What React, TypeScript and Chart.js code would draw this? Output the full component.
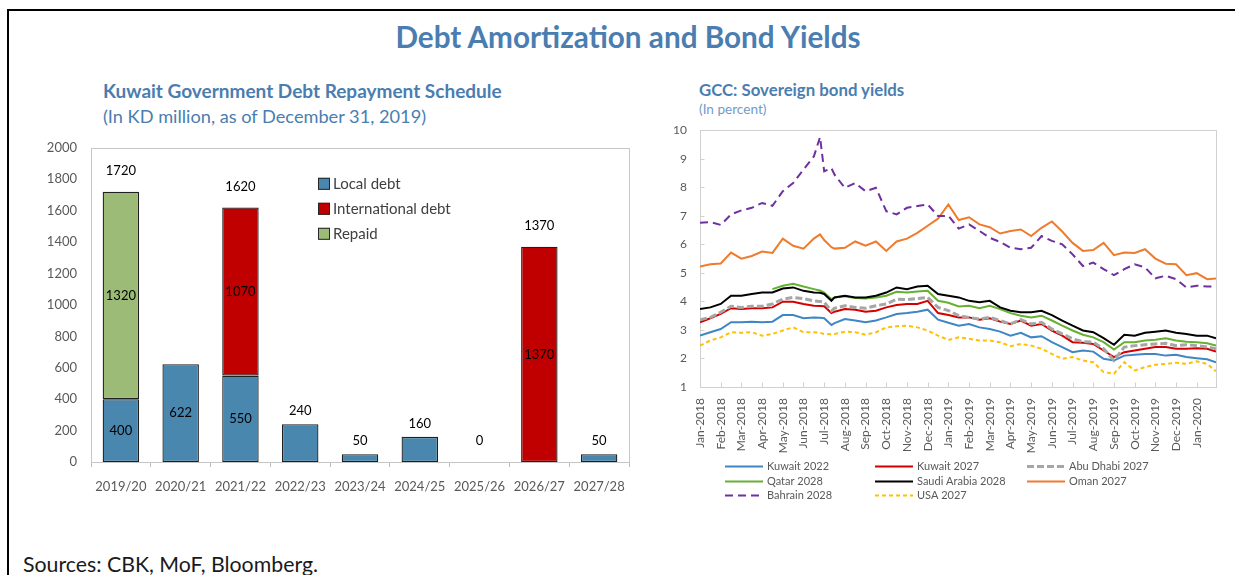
import React, { useEffect, useRef } from "react";
import { Chart, registerables } from "chart.js";
Chart.register(...registerables);

const FONT = "Lato, 'Open Sans', sans-serif";
const BLUE_TITLE = "#4a7db0";

// ---------- Left chart data ----------
const fiscalYears = ["2019/20", "2020/21", "2021/22", "2022/23", "2023/24", "2024/25", "2025/26", "2026/27", "2027/28"];
const localDebt = [400, 622, 550, 240, 50, 160, null, null, 50];
const internationalDebt = [null, null, 1070, null, null, null, null, 1370, null];
const repaid = [1320, null, null, null, null, null, null, null, null];
const localLabels = [400, 622, 550, null, null, null, null, null, null];
const internationalLabels = [null, null, 1070, null, null, null, null, 1370, null];
const repaidLabels = [1320, null, null, null, null, null, null, null, null];
const totalLabels = [1720, null, 1620, 240, 50, 160, 0, 1370, 50];
const debtTickStep = 200;
const debtMax = 2000;

// ---------- Right chart data ----------
const monthLabels = [
  "Jan-2018", "Feb-2018", "Mar-2018", "Apr-2018", "May-2018", "Jun-2018", "Jul-2018", "Aug-2018",
  "Sep-2018", "Oct-2018", "Nov-2018", "Dec-2018", "Jan-2019", "Feb-2019", "Mar-2019", "Apr-2019",
  "May-2019", "Jun-2019", "Jul-2019", "Aug-2019", "Sep-2019", "Oct-2019", "Nov-2019", "Dec-2019", "Jan-2020",
];
// observation times, in months since Jan-2018
const obsMonth = [0, 0.5, 1, 1.5, 2, 2.5, 3, 3.5, 4, 4.5, 5, 5.5, 5.8, 6, 6.35, 6.5, 7, 7.5, 8, 8.5, 9, 9.5, 10, 10.5, 11, 11.5, 12, 12.5, 13, 13.5, 14, 14.5, 15, 15.5, 16, 16.5, 17, 17.5, 18, 18.5, 19, 19.5, 20, 20.5, 21, 21.5, 22, 22.5, 23, 23.5, 24, 24.5, 24.93];

const kuwait2022 = [2.80, 2.92, 3.03, 3.27, 3.27, 3.29, 3.27, 3.29, 3.52, 3.52, 3.41, 3.44, 3.43, 3.41, 3.17, 3.24, 3.38, 3.33, 3.27, 3.33, 3.44, 3.56, 3.59, 3.64, 3.71, 3.36, 3.25, 3.15, 3.21, 3.09, 3.03, 2.94, 2.80, 2.90, 2.74, 2.78, 2.57, 2.40, 2.22, 2.28, 2.24, 1.99, 1.93, 2.10, 2.13, 2.16, 2.16, 2.10, 2.13, 2.05, 2.01, 1.97, 1.87];
const kuwait2027 = [3.27, 3.41, 3.56, 3.76, 3.73, 3.76, 3.76, 3.79, 3.99, 3.99, 3.91, 3.85, 3.84, 3.83, 3.59, 3.64, 3.73, 3.71, 3.64, 3.67, 3.79, 3.87, 3.91, 3.91, 4.02, 3.59, 3.52, 3.44, 3.44, 3.36, 3.41, 3.29, 3.21, 3.33, 3.15, 3.21, 2.98, 2.80, 2.57, 2.55, 2.51, 2.28, 2.05, 2.22, 2.28, 2.34, 2.40, 2.40, 2.34, 2.34, 2.36, 2.34, 2.24];
const abuDhabi2027 = [3.36, 3.44, 3.62, 3.83, 3.79, 3.83, 3.83, 3.91, 4.08, 4.14, 4.10, 4.02, 4.00, 3.97, 3.67, 3.76, 3.85, 3.79, 3.76, 3.85, 3.91, 4.08, 4.06, 4.10, 4.14, 3.79, 3.68, 3.50, 3.44, 3.38, 3.44, 3.33, 3.21, 3.36, 3.21, 3.27, 3.03, 2.86, 2.69, 2.59, 2.57, 2.34, 1.93, 2.40, 2.45, 2.48, 2.51, 2.53, 2.45, 2.48, 2.45, 2.40, 2.34];
const qatar2028 = [null, null, null, null, null, null, null, 4.43, 4.55, 4.62, 4.52, 4.43, 4.38, 4.31, 4.08, 4.14, 4.18, 4.12, 4.10, 4.14, 4.20, 4.34, 4.31, 4.35, 4.37, 4.02, 3.95, 3.82, 3.85, 3.76, 3.85, 3.73, 3.59, 3.50, 3.44, 3.50, 3.33, 3.15, 2.98, 2.83, 2.74, 2.57, 2.31, 2.57, 2.57, 2.63, 2.66, 2.71, 2.63, 2.59, 2.57, 2.53, 2.45];
const saudi2028 = [3.73, 3.79, 3.91, 4.20, 4.20, 4.26, 4.31, 4.31, 4.45, 4.49, 4.37, 4.31, 4.30, 4.26, 4.02, 4.14, 4.20, 4.14, 4.14, 4.20, 4.31, 4.49, 4.43, 4.52, 4.55, 4.26, 4.20, 4.14, 4.02, 3.97, 4.02, 3.79, 3.67, 3.62, 3.62, 3.67, 3.52, 3.33, 3.15, 2.98, 2.92, 2.71, 2.48, 2.83, 2.80, 2.90, 2.94, 2.98, 2.90, 2.86, 2.80, 2.80, 2.71];
const oman2027 = [5.22, 5.30, 5.33, 5.71, 5.50, 5.59, 5.75, 5.70, 6.20, 5.95, 5.85, 6.20, 6.35, 6.15, 5.90, 5.85, 5.88, 6.10, 5.95, 6.10, 5.77, 6.10, 6.20, 6.40, 6.65, 6.90, 7.40, 6.85, 6.95, 6.70, 6.60, 6.38, 6.47, 6.52, 6.29, 6.58, 6.80, 6.45, 6.05, 5.77, 5.80, 6.05, 5.62, 5.71, 5.70, 5.83, 5.50, 5.32, 5.30, 4.92, 4.99, 4.78, 4.80];
const bahrain2028 = [6.76, 6.78, 6.68, 7.05, 7.19, 7.28, 7.45, 7.35, 7.86, 8.15, 8.62, 9.08, 9.76, 8.56, 8.67, 8.44, 7.98, 8.15, 7.86, 7.98, 7.16, 7.05, 7.28, 7.34, 7.40, 6.99, 7.00, 6.55, 6.70, 6.47, 6.23, 6.08, 5.88, 5.83, 5.88, 6.29, 6.12, 6.00, 5.65, 5.24, 5.36, 5.13, 4.92, 5.13, 5.30, 5.19, 4.81, 4.90, 4.78, 4.49, 4.55, 4.52, 4.52];
const usa2027 = [2.45, 2.63, 2.74, 2.92, 2.90, 2.92, 2.80, 2.86, 2.98, 3.09, 2.92, 2.92, 2.90, 2.86, 2.85, 2.86, 2.94, 2.92, 2.83, 2.92, 3.09, 3.13, 3.15, 3.09, 2.98, 2.80, 2.65, 2.74, 2.69, 2.63, 2.63, 2.57, 2.43, 2.51, 2.45, 2.34, 2.16, 1.99, 2.05, 1.93, 1.87, 1.52, 1.47, 1.87, 1.58, 1.70, 1.78, 1.81, 1.85, 1.81, 1.90, 1.81, 1.55];
const yieldMin = 1;
const yieldMax = 10;
const lastObs = 24.93;

// ---------- Left chart ----------
const LOCAL_COLOR = "#4a87ae";
const INTL_COLOR = "#c00000";
const REPAID_COLOR = "#9bbb77";

const debtPlugin = {
  id: "debtDecor",
  beforeDatasetsDraw(chart: any) {
    const { ctx, chartArea } = chart;
    ctx.save();
    ctx.strokeStyle = "#c6c6c6";
    ctx.lineWidth = 1;
    ctx.strokeRect(
      Math.round(chartArea.left) + 0.5,
      Math.round(chartArea.top) + 0.5,
      Math.round(chartArea.right - chartArea.left),
      Math.round(chartArea.bottom - chartArea.top)
    );
    ctx.restore();
  },
  afterDatasetsDraw(chart: any) {
    const { ctx, chartArea, scales } = chart;
    ctx.save();
    ctx.font = `13px ${FONT}`;
    ctx.fillStyle = "#000";
    ctx.textAlign = "center";
    ctx.textBaseline = "middle";
    const sets = [localLabels, internationalLabels, repaidLabels];
    sets.forEach((labels, di) => {
      const meta = chart.getDatasetMeta(di);
      labels.forEach((v, i) => {
        if (v == null) return;
        const el: any = meta.data[i];
        ctx.fillText(String(v), el.x, (el.y + el.base) / 2);
      });
    });
    totalLabels.forEach((v, i) => {
      if (v == null) return;
      const sum = (localDebt[i] || 0) + (internationalDebt[i] || 0) + (repaid[i] || 0);
      const top = scales.y.getPixelForValue(sum);
      const gap = sum >= 1000 || sum === 0 ? 21 : 13;
      ctx.fillText(String(v), scales.x.getPixelForValue(i), top - gap);
    });
    // legend
    const bx = chartArea.left + 227;
    chart.data.datasets.forEach((ds: any, k: number) => {
      const yy = chartArea.top + 36 + k * 25;
      ctx.fillStyle = ds.backgroundColor;
      ctx.fillRect(bx, yy - 6, 12, 12);
      ctx.strokeStyle = "#262626";
      ctx.lineWidth = 1;
      ctx.strokeRect(bx + 0.5, yy - 5.5, 11, 11);
      ctx.fillStyle = "#404040";
      ctx.font = `15px ${FONT}`;
      ctx.textAlign = "left";
      ctx.fillText(ds.label, bx + 15, yy);
    });
    ctx.restore();
  },
};

function DebtChart() {
  const ref = useRef<HTMLCanvasElement>(null);
  useEffect(() => {
    const common = { borderColor: "#1f1f1f", borderWidth: 1.3, borderSkipped: false, barPercentage: 0.61, categoryPercentage: 1 };
    const chart = new Chart(ref.current as HTMLCanvasElement, {
      type: "bar",
      data: {
        labels: fiscalYears,
        datasets: [
          { label: "Local debt", data: localDebt, backgroundColor: LOCAL_COLOR, ...common },
          { label: "International debt", data: internationalDebt, backgroundColor: INTL_COLOR, ...common },
          { label: "Repaid", data: repaid, backgroundColor: REPAID_COLOR, ...common },
        ] as any,
      },
      options: {
        responsive: false,
        animation: false,
        devicePixelRatio: 1,
        layout: { padding: { top: 0, right: 11, left: 0, bottom: 0 } },
        plugins: { legend: { display: false }, tooltip: { enabled: false } },
        scales: {
          x: {
            stacked: true,
            grid: { display: true, drawOnChartArea: false, drawTicks: true, tickLength: 5, color: "#bfbfbf", offset: true },
            border: { display: false },
            ticks: { padding: 12, color: "#595959", font: { family: FONT, size: 13 } },
            afterFit: (s: any) => { s.height = 43; },
          },
          y: {
            stacked: true,
            min: 0,
            max: debtMax,
            ticks: { stepSize: debtTickStep, padding: 14, color: "#595959", font: { family: FONT, size: 13 }, callback: (v: any) => String(v) },
            grid: { display: false, drawTicks: false },
            border: { display: false },
            afterFit: (s: any) => { s.width = 71; },
          },
        },
      } as any,
      plugins: [debtPlugin],
    });
    return () => chart.destroy();
  }, []);
  return <canvas ref={ref} width={620} height={379} style={{ position: "absolute", left: 20, top: 126, width: 620, height: 379 }} />;
}

// ---------- Right chart ----------
const bondSeries = [
  { label: "Kuwait 2022", values: kuwait2022, color: "#3f86c4", width: 2, dash: [] as number[] },
  { label: "Kuwait 2027", values: kuwait2027, color: "#d40000", width: 2, dash: [] as number[] },
  { label: "Abu Dhabi 2027", values: abuDhabi2027, color: "#a6a6a6", width: 3, dash: [7, 3] },
  { label: "Qatar 2028", values: qatar2028, color: "#66b032", width: 2, dash: [] as number[] },
  { label: "Saudi Arabia 2028", values: saudi2028, color: "#000000", width: 2, dash: [] as number[] },
  { label: "Oman 2027", values: oman2027, color: "#ef7b2d", width: 2, dash: [] as number[] },
  { label: "Bahrain 2028", values: bahrain2028, color: "#7030a0", width: 2, dash: [8, 5] },
  { label: "USA 2027", values: usa2027, color: "#ffc000", width: 2, dash: [4, 3] },
];

const bondPlugin = {
  id: "bondDecor",
  beforeDatasetsDraw(chart: any) {
    const { ctx, chartArea, scales } = chart;
    ctx.save();
    ctx.strokeStyle = "#d0d0d0";
    ctx.lineWidth = 1;
    const l = Math.round(chartArea.left) + 0.5;
    const t = Math.round(chartArea.top) + 0.5;
    const r = Math.round(chartArea.right) + 0.5;
    const b = Math.round(chartArea.bottom) + 0.5;
    ctx.strokeRect(l, t, r - l, b - t);
    ctx.beginPath();
    scales.y.ticks.forEach((tk: any) => {
      const y = Math.round(scales.y.getPixelForValue(tk.value)) + 0.5;
      ctx.moveTo(l, y);
      ctx.lineTo(l + 4, y);
    });
    scales.x.ticks.forEach((tk: any) => {
      const x = Math.round(scales.x.getPixelForValue(tk.value)) + 0.5;
      ctx.moveTo(x, b);
      ctx.lineTo(x, b - 5);
    });
    ctx.stroke();
    ctx.restore();
  },
  afterDraw(chart: any) {
    const { ctx, chartArea } = chart;
    ctx.save();
    const cols = [25, 175, 327];
    const rows = [79, 94, 108];
    ctx.font = `11px ${FONT}`;
    ctx.textBaseline = "middle";
    ctx.textAlign = "left";
    chart.data.datasets.forEach((ds: any, i: number) => {
      const x = chartArea.left + cols[i % 3];
      const y = Math.round(chartArea.bottom + rows[Math.floor(i / 3)]) + 0.5;
      ctx.strokeStyle = ds.borderColor;
      ctx.lineWidth = ds.borderWidth;
      ctx.setLineDash(ds.borderDash || []);
      ctx.beginPath();
      ctx.moveTo(x, y);
      ctx.lineTo(x + 38, y);
      ctx.stroke();
      ctx.setLineDash([]);
      ctx.fillStyle = "#595959";
      ctx.fillText(ds.label, x + 42, y);
    });
    ctx.restore();
  },
};

function BondChart() {
  const ref = useRef<HTMLCanvasElement>(null);
  useEffect(() => {
    const n = bondSeries.length;
    const chart = new Chart(ref.current as HTMLCanvasElement, {
      type: "line",
      data: {
        datasets: bondSeries.map((s, i) => ({
          label: s.label,
          data: obsMonth.map((m, k) => ({ x: m, y: s.values[k] })),
          borderColor: s.color,
          backgroundColor: s.color,
          borderWidth: s.width,
          borderDash: s.dash,
          pointRadius: 0,
          fill: false,
          tension: 0,
          spanGaps: false,
          order: n - i,
        })) as any,
      },
      options: {
        responsive: false,
        animation: false,
        devicePixelRatio: 1,
        layout: { padding: { top: 0, right: 19, left: 0, bottom: 0 } },
        plugins: { legend: { display: false }, tooltip: { enabled: false } },
        scales: {
          x: {
            type: "linear",
            min: 0,
            max: lastObs,
            afterBuildTicks: (s: any) => { s.ticks = monthLabels.map((_, i) => ({ value: i })); },
            afterFit: (s: any) => { s.height = 123; },
            grid: { display: false, drawTicks: false },
            border: { display: false },
            ticks: {
              autoSkip: false,
              maxRotation: 90,
              minRotation: 90,
              padding: 11,
              color: "#595959",
              font: { family: FONT, size: 12 },
              callback: (v: any) => monthLabels[v] ?? "",
            },
          },
          y: {
            min: yieldMin,
            max: yieldMax,
            ticks: { stepSize: 1, padding: 13, color: "#595959", font: { family: FONT, size: 12 } },
            grid: { display: false, drawTicks: false },
            border: { display: false },
            afterFit: (s: any) => { s.width = 50; },
          },
        },
      } as any,
      plugins: [bondPlugin],
    });
    return () => chart.destroy();
  }, []);
  return <canvas ref={ref} width={585} height={400} style={{ position: "absolute", left: 650, top: 110, width: 585, height: 400 }} />;
}

const txt = (top: number, left: number, size: number, bold: boolean, color: string, extra: any = {}) => ({
  position: "absolute" as const,
  top,
  left,
  fontSize: size,
  fontWeight: bold ? 700 : 400,
  color,
  fontFamily: FONT,
  lineHeight: 1.2,
  whiteSpace: "nowrap" as const,
  ...extra,
});

export default function App() {
  return (
    <div style={{ position: "absolute", left: 0, top: 0, width: 1235, height: 575, overflow: "hidden", background: "#fff" }}>
      <div style={{ position: "absolute", left: 7, top: 9, width: 1400, height: 800, borderTop: "2px solid #000", borderLeft: "2px solid #000" }} />
      <div style={txt(19, 278, 29.7, true, BLUE_TITLE, { width: 700, textAlign: "center" })}>Debt Amortization and Bond Yields</div>
      <div style={txt(80, 103, 19, true, BLUE_TITLE)}>Kuwait Government Debt Repayment Schedule</div>
      <div style={txt(105.5, 103, 18.2, false, BLUE_TITLE)}>(In KD million, as of December 31, 2019)</div>
      <div style={txt(79.5, 699, 16.8, true, BLUE_TITLE)}>GCC: Sovereign bond yields</div>
      <div style={txt(100.5, 699, 13.6, false, "#6f9ccb")}>(In percent)</div>
      <DebtChart />
      <BondChart />
      <div style={txt(551.5, 23, 21.3, false, "#1a1a1a")}>Sources: CBK, MoF, Bloomberg.</div>
    </div>
  );
}
